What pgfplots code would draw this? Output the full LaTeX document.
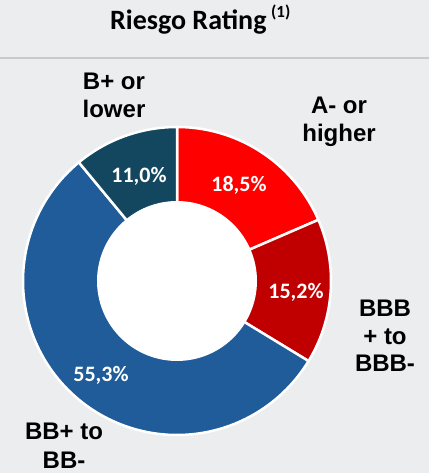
\documentclass[border=0pt]{standalone}
\usepackage{pgfplots}
\pgfplotsset{compat=1.18}
\usepackage{pgfplotstable}
\usepackage{fontspec}
\setmainfont{Carlito}
\newfontfamily\arial{Liberation Sans}
\definecolor{bg}{HTML}{ECEDEF}
\definecolor{sep}{HTML}{C9CACD}
\definecolor{cA}{HTML}{FF0000}
\definecolor{cB}{HTML}{C00000}
\definecolor{cC}{HTML}{1F5C99}
\definecolor{cD}{HTML}{13475F}
\pgfplotstableread{
label share
A 18.5
BBB 15.2
BB 55.3
B 11.0
}\ratings
\pgfplotstablegetelem{0}{share}\of\ratings\let\vA\pgfplotsretval
\pgfplotstablegetelem{1}{share}\of\ratings\let\vB\pgfplotsretval
\pgfplotstablegetelem{2}{share}\of\ratings\let\vC\pgfplotsretval
\pgfplotstablegetelem{3}{share}\of\ratings\let\vD\pgfplotsretval
\pgfmathsetmacro\aO{90}
\pgfmathsetmacro\aA{90-3.6*\vA}
\pgfmathsetmacro\aB{\aA-3.6*\vB}
\pgfmathsetmacro\aC{\aB-3.6*\vC}
\pgfmathsetmacro\aD{\aC-3.6*\vD}
\def\R{154}
\def\r{80}
\def\cx{177}
\def\cy{192}
\begin{document}
\begin{tikzpicture}
\useasboundingbox (0,0) rectangle (429pt,473pt);
\fill[bg] (0,0) rectangle (429pt,473pt);
\begin{axis}[at={(0,0)}, anchor=south west, scale only axis,
  width=429pt, height=473pt, xmin=0, xmax=429, ymin=0, ymax=473,
  hide axis, clip=false]
\addplot[draw=sep, line width=2pt] coordinates {(0,415) (429,415)};
\addplot[fill=cA, draw=white, line width=2.5pt, domain=\aA:\aO, samples=60, variable=\t]
  ({\cx+\R*cos(\t)},{\cy+\R*sin(\t)}) -- (axis cs:\cx,\cy) -- cycle;
\addplot[fill=cB, draw=white, line width=2.5pt, domain=\aB:\aA, samples=60, variable=\t]
  ({\cx+\R*cos(\t)},{\cy+\R*sin(\t)}) -- (axis cs:\cx,\cy) -- cycle;
\addplot[fill=cC, draw=white, line width=2.5pt, domain=\aC:\aB, samples=120, variable=\t]
  ({\cx+\R*cos(\t)},{\cy+\R*sin(\t)}) -- (axis cs:\cx,\cy) -- cycle;
\addplot[fill=cD, draw=white, line width=2.5pt, domain=\aD:\aC, samples=40, variable=\t]
  ({\cx+\R*cos(\t)},{\cy+\R*sin(\t)}) -- (axis cs:\cx,\cy) -- cycle;
\addplot[fill=white, draw=none, domain=0:360, samples=120, variable=\t]
  ({\cx+\r*cos(\t)},{\cy+\r*sin(\t)}) -- cycle;
% percent labels
\node[text=white, font=\fontsize{22}{26}\selectfont\bfseries] at (axis cs:239,288) {18,5\%};
\node[text=white, font=\fontsize{22}{26}\selectfont\bfseries] at (axis cs:296,181) {15,2\%};
\node[text=white, font=\fontsize{22}{26}\selectfont\bfseries] at (axis cs:101,98) {55,3\%};
\node[text=white, font=\fontsize{22}{26}\selectfont\bfseries] at (axis cs:139,297) {11,0\%};
% category labels
\node[align=center, font=\arial\fontsize{24}{28}\selectfont\bfseries] at (axis cs:339,351) {A- or\\higher};
\node[align=center, font=\arial\fontsize{24}{28}\selectfont\bfseries] at (axis cs:114,378) {B+ or\\lower};
\node[align=center, font=\arial\fontsize{24}{27.5}\selectfont\bfseries] at (axis cs:385,137) {BBB\\+ to\\BBB-};
\node[align=center, font=\arial\fontsize{24}{29}\selectfont\bfseries] at (axis cs:64,27) {BB+ to\\BB-};
% title
\node[anchor=base west, inner sep=0pt, font=\fontsize{28}{32}\selectfont\bfseries] at (axis cs:110,443.5) {Riesgo Rating\,\raisebox{0.42em}{\fontsize{17}{20}\selectfont(1)}};
\end{axis}
\end{tikzpicture}
\end{document}
